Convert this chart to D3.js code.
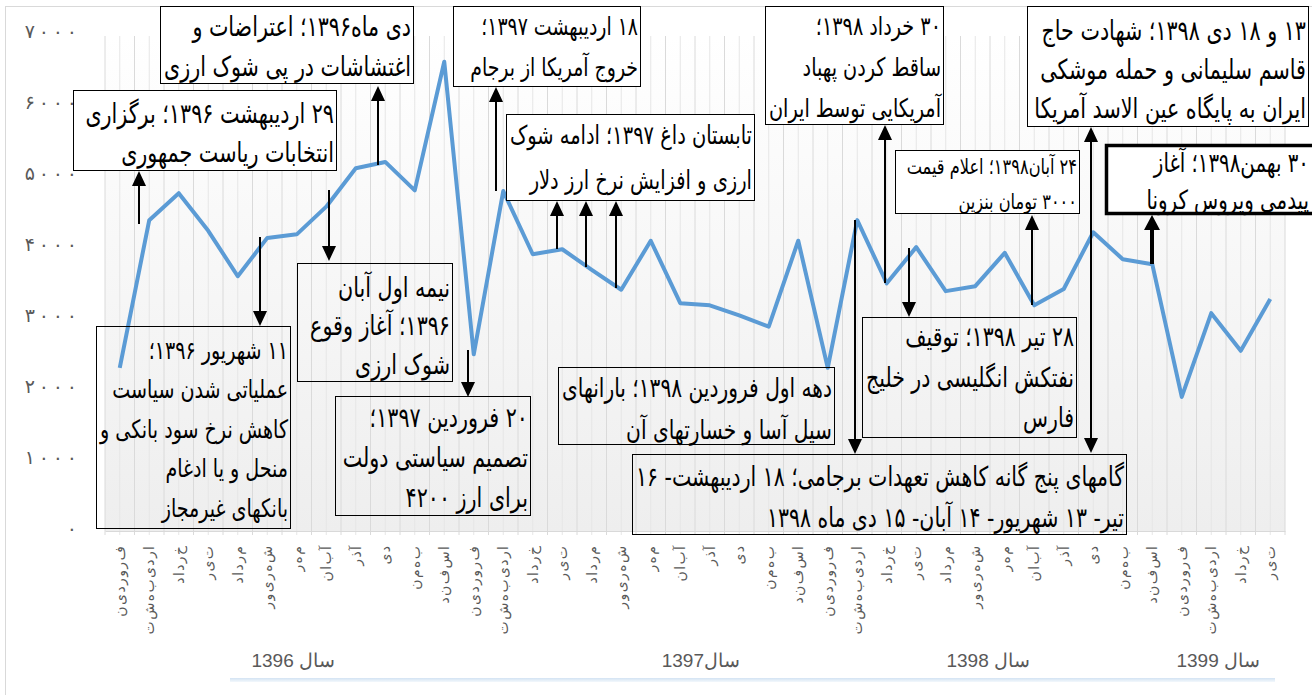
<!DOCTYPE html>
<html>
<head>
<meta charset="utf-8">
<script src="https://cdn.jsdelivr.net/npm/d3@7"></script>
<style>
  body { margin: 0; background: #fff; }
  svg { display: block; font-family: "DejaVu Sans", sans-serif; }
  .note text { font-family: "DejaVu Sans Condensed", "DejaVu Sans", sans-serif; }
</style>
</head>
<body>
<svg id="chart" width="1312" height="695"></svg>
<script>
// month names and the years they span
const months = ['فروردین', 'اردیبهشت', 'خرداد', 'تیر', 'مرداد', 'شهریور', 'مهر', 'آبان', 'آذر', 'دی', 'بهمن', 'اسفند'];
const yearMonths = [
  { year: 1396, count: 12 },
  { year: 1397, count: 12 },
  { year: 1398, count: 12 },
  { year: 1399, count: 4 }
];
const periods = yearMonths.flatMap(y => months.slice(0, y.count));

// dollar rate series
const values = [
  2270, 4350, 4730, 4200, 3560, 4100, 4150, 4540, 5080, 5170, 4770, 6580,
  2460, 4760, 3870, 3940, 3650, 3370, 4060, 3180, 3150, 3010, 2850, 4060,
  2270, 4350, 3460, 3970, 3350, 3420, 3890, 3150, 3380, 4180, 3800, 3730,
  1860, 3040, 2510, 3240
];

const yTicks = [0, 1000, 2000, 3000, 4000, 5000, 6000, 7000];
const yTickLabels = ['۰', '۱۰۰۰', '۲۰۰۰', '۳۰۰۰', '۴۰۰۰', '۵۰۰۰', '۶۰۰۰', '۷۰۰۰'];
const yearLabels = ['سال 1396', 'سال1397', 'سال 1398', 'سال 1399'];

// annotation layout (pixels)
const yearLabelRight = [335, 740, 1030, 1260];
const notes = [
  { lines: ['۲۹ اردیبهشت ۱۳۹۶؛ برگزاری', 'انتخابات ریاست جمهوری'], box: [73, 90, 336, 170], fill: '#fff', pad: 23, lh: 39 },
  { lines: ['دی ماه۱۳۹۶؛ اعتراضات و', 'اغتشاشات در پی شوک ارزی'], box: [160, 6, 413, 83], fill: '#fff', pad: 20, lh: 40 },
  { lines: ['۱۱ شهریور ۱۳۹۶؛', 'عملیاتی شدن سیاست', 'کاهش نرخ سود بانکی و', 'منحل و یا ادغام', 'بانکهای غیرمجاز'], box: [96, 326, 290, 528], fill: 'none', pad: 24, lh: 39.5 },
  { lines: ['نیمه اول آبان', '۱۳۹۶؛ آغاز وقوع', 'شوک ارزی'], box: [297, 263, 452, 381], fill: 'none', pad: 24, lh: 38.5 },
  { lines: ['۱۸ اردیبهشت ۱۳۹۷؛', 'خروج آمریکا از برجام'], box: [453, 6, 640, 86], fill: '#fff', pad: 20, lh: 41, cap: 21 },
  { lines: ['تابستان داغ ۱۳۹۷؛ ادامه شوک', 'ارزی و افزایش نرخ ارز دلار'], box: [506, 114, 754, 200], fill: '#fff', pad: 21, lh: 45 },
  { lines: ['۲۰ فروردین ۱۳۹۷؛', 'تصمیم سیاستی دولت', 'برای ارز ۴۲۰۰'], box: [335, 396, 530, 515], fill: 'none', pad: 21, lh: 40 },
  { lines: ['۳۰ خرداد ۱۳۹۸؛', 'ساقط کردن پهباد', 'آمریکایی توسط ایران'], box: [765, 6, 943, 124], fill: '#fff', pad: 20, lh: 41 },
  { lines: ['۲۴ آبان۱۳۹۸؛ اعلام قیمت', '۳۰۰۰ تومان بنزین'], box: [895, 150, 1079, 213], fill: '#fff', pad: 17, lh: 35, cap: 18 },
  { lines: ['۱۳ و ۱۸ دی ۱۳۹۸؛ شهادت حاج', 'قاسم سلیمانی و حمله موشکی', 'ایران به پایگاه عین الاسد آمریکا'], box: [1027, 6, 1308, 126], fill: '#fff', pad: 24, lh: 39 },
  { lines: ['گامهای پنج گانه کاهش تعهدات برجامی؛ ۱۸ اردیبهشت- ۱۶', 'تیر- ۱۳ شهریور- ۱۴ آبان- ۱۵ دی ماه ۱۳۹۸'], box: [632, 454, 1126, 534], fill: 'none', pad: 23, lh: 41 },
  { lines: ['۲۸ تیر ۱۳۹۸؛ توقیف', 'نفتکش انگلیسی در خلیج', 'فارس'], box: [862, 317, 1076, 437], fill: 'none', pad: 20, lh: 40.5 },
  { lines: ['دهه اول فروردین ۱۳۹۸؛ بارانهای', 'سیل آسا و خسارتهای آن'], box: [558, 367, 834, 444], fill: 'none', pad: 21, lh: 42 },
  { lines: ['۳۰ بهمن۱۳۹۸؛ آغاز', 'پیدمی ویروس کرونا'], box: [1106, 145, 1322, 213], fill: '#fff', pad: 18, lh: 37, stroke: 3.5, textRight: 1309, cap: 22 }
];
const arrows = [
  { x: 139, from: 224, to: 171 },
  { x: 378, from: 165, to: 86 },
  { x: 260, from: 237, to: 326 },
  { x: 329, from: 190, to: 261 },
  { x: 496, from: 191, to: 87 },
  { x: 557, from: 249, to: 201 },
  { x: 586, from: 267, to: 201 },
  { x: 616, from: 288, to: 201 },
  { x: 468, from: 350, to: 397 },
  { x: 885, from: 283, to: 125 },
  { x: 1032, from: 305, to: 215 },
  { x: 1091, from: 453, to: 127, both: true },
  { x: 855, from: 220, to: 454 },
  { x: 909, from: 248, to: 317 },
  { x: 1152, from: 264, to: 215, w: 4 }
];

const svg = d3.select('#chart');
const plot = { left: 105, right: 1285, top: 36, bottom: 531 };

const x = d3.scaleBand().domain(d3.range(periods.length)).range([plot.left, plot.right]);
const y = d3.scaleLinear().domain([0, 7000]).range([529, 32]);
const cx = i => x(i) + x.bandwidth() / 2;

const defs = svg.append('defs');
const bg = defs.append('linearGradient').attr('id', 'plotBg').attr('x1', 0).attr('x2', 0).attr('y1', 0).attr('y2', 1);
bg.append('stop').attr('offset', '0%').attr('stop-color', '#ffffff');
bg.append('stop').attr('offset', '100%').attr('stop-color', '#eeeeee');
const bar = defs.append('linearGradient').attr('id', 'yearBar').attr('x1', 0).attr('x2', 0).attr('y1', 0).attr('y2', 1);
bar.append('stop').attr('offset', '0%').attr('stop-color', '#d3e3f3');
bar.append('stop').attr('offset', '100%').attr('stop-color', '#f3f8fc');

// outer chart frame
svg.append('rect')
  .attr('x', 5.5).attr('y', 6.5).attr('width', 1330).attr('height', 700)
  .attr('fill', 'none').attr('stroke', '#d9d9d9');

// plot area + vertical grid
svg.append('rect')
  .attr('x', plot.left).attr('y', plot.top)
  .attr('width', plot.right - plot.left).attr('height', plot.bottom - plot.top)
  .attr('fill', 'url(#plotBg)');

const step = x.step();
const gridXs = d3.range(0, periods.length * 2 + 1).map(k => plot.left + k * step / 2);
svg.append('g').selectAll('line').data(gridXs).join('line')
  .attr('x1', d => d).attr('x2', d => d)
  .attr('y1', plot.top).attr('y2', plot.bottom + 4)
  .attr('stroke', (d, k) => k % 2 ? '#e6e6e6' : '#dadada')
  .attr('stroke-width', 1);

// y axis: labels only (chrome drops letter-spacing on arabic script, so pad with thin spaces)
const yAxis = svg.append('g')
  .attr('transform', 'translate(77,0)')
  .call(d3.axisLeft(y).tickValues(yTicks).tickSize(0).tickPadding(0)
    .tickFormat((d, i) => yTickLabels[i].split('').join('\u2009')));
yAxis.select('.domain').remove();
yAxis.selectAll('text')
  .attr('fill', '#595959').attr('font-size', 19)
  .attr('font-family', '"DejaVu Sans", sans-serif')
  .attr('dy', '0.3em');

// x axis
const xAxis = svg.append('g')
  .attr('transform', `translate(0,${plot.bottom})`)
  .call(d3.axisBottom(x).tickSize(0).tickFormat(i => periods[i].split('').join('\u200a')));
xAxis.select('.domain').attr('stroke', '#d9d9d9');
xAxis.selectAll('text')
  .attr('x', 0).attr('y', 0).attr('dy', null)
  .attr('transform', 'translate(0,15) rotate(-90)')
  .attr('text-anchor', 'end')
  .attr('dominant-baseline', 'central')
  .attr('fill', '#595959').attr('font-size', 14)
  .attr('font-family', '"DejaVu Sans", sans-serif');

// year labels
svg.append('g').selectAll('text').data(yearLabels).join('text')
  .attr('x', (d, i) => yearLabelRight[i]).attr('y', 660)
  .attr('direction', 'rtl').attr('text-anchor', 'start')
  .attr('dominant-baseline', 'central')
  .attr('font-family', '"Liberation Sans", Arial, sans-serif')
  .attr('font-size', 19).attr('fill', '#595959')
  .text(d => d);
svg.append('rect')
  .attr('x', 230).attr('y', 678).attr('width', 1045).attr('height', 4)
  .attr('fill', 'url(#yearBar)');

// series line
const line = d3.line().x((d, i) => cx(i)).y(d => y(d));
svg.append('path')
  .datum(values)
  .attr('d', line)
  .attr('fill', 'none')
  .attr('stroke', '#5b9bd5')
  .attr('stroke-width', 4)
  .attr('stroke-linejoin', 'round');

// annotation boxes
const noteG = svg.append('g').attr('class', 'note');
notes.forEach(n => {
  const [x0, y0, x1, y1] = n.box;
  const g = noteG.append('g');
  g.append('rect')
    .attr('x', x0 + 0.5).attr('y', y0 + 0.5)
    .attr('width', x1 - x0).attr('height', y1 - y0)
    .attr('fill', n.fill).attr('stroke', '#000')
    .attr('stroke-width', n.stroke || 1);
  const tx = n.textRight || x1 - 2;
  const base = 20;
  const texts = g.selectAll('text').data(n.lines).join('text')
    .attr('transform', (d, i) => `translate(${tx},${y0 + n.pad + i * n.lh}) scale(1,1.2)`)
    .attr('direction', 'rtl').attr('text-anchor', 'start')
    .attr('dominant-baseline', 'central')
    .attr('font-size', base).attr('fill', '#000')
    .text(d => d);
  // size the text so the longest line fills the box (the source font is narrower)
  const maxW = d3.max(texts.nodes(), t => t.getComputedTextLength());
  const room = tx - x0 - 4;
  texts.attr('font-size', Math.min(n.cap || 23, base * room / maxW));
});

// arrows
const arrowG = svg.append('g');
function head(xp, tip, dir, w) {
  const hw = w > 2 ? 8 : 7, hl = 15;
  return `M${xp},${tip}L${xp - hw},${tip - dir * hl}L${xp + hw},${tip - dir * hl}Z`;
}
arrows.forEach(a => {
  const w = a.w || 2;
  const dir = a.to > a.from ? 1 : -1;
  arrowG.append('line')
    .attr('x1', a.x).attr('x2', a.x)
    .attr('y1', a.both ? a.from + dir * 14 : a.from)
    .attr('y2', a.to - dir * 14)
    .attr('stroke', '#000').attr('stroke-width', w);
  arrowG.append('path').attr('d', head(a.x, a.to, dir, w)).attr('fill', '#000');
  if (a.both) arrowG.append('path').attr('d', head(a.x, a.from, -dir, w)).attr('fill', '#000');
});
</script>
</body>
</html>
